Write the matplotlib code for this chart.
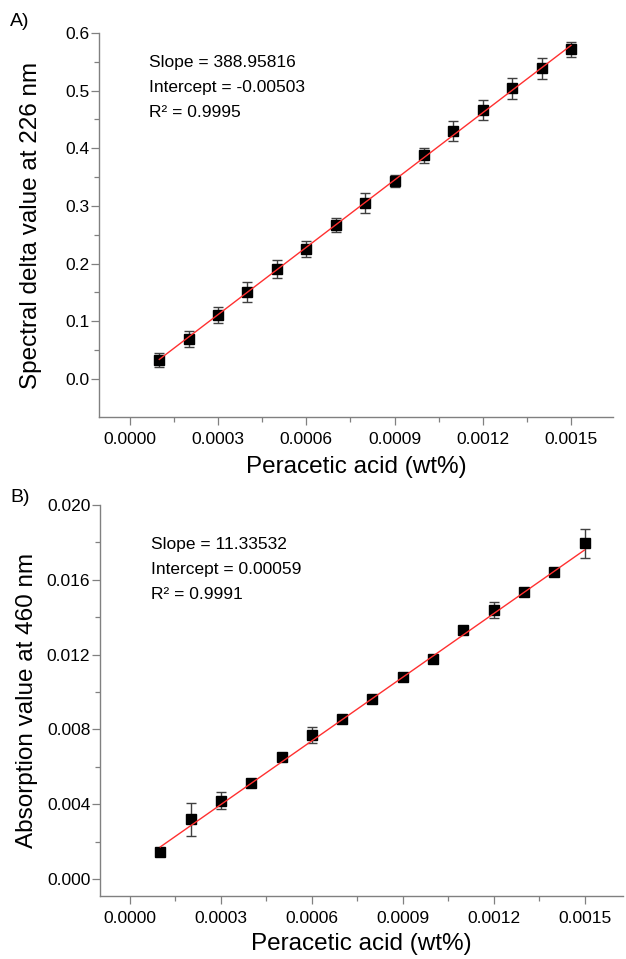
import numpy as np
import matplotlib
matplotlib.use("Agg")
import matplotlib.pyplot as plt

plt.rcParams['font.family'] = ['Liberation Sans', 'DejaVu Sans']

# peracetic acid concentration (wt%)
conc = [0.0001, 0.0002, 0.0003, 0.0004, 0.0005, 0.0006, 0.0007, 0.0008,
        0.0009, 0.0010, 0.0011, 0.0012, 0.0013, 0.0014, 0.0015]

# A) spectral delta value at 226 nm
delta226 = [0.033, 0.069, 0.111, 0.151, 0.191, 0.225, 0.267, 0.305,
            0.343, 0.388, 0.430, 0.466, 0.504, 0.539, 0.572]
delta226_err = [0.012, 0.014, 0.014, 0.017, 0.016, 0.014, 0.013, 0.018,
                0.010, 0.013, 0.017, 0.017, 0.018, 0.018, 0.013]

# B) absorption value at 460 nm
abs460 = [0.00143, 0.00319, 0.00419, 0.00514, 0.00652, 0.00772, 0.00856, 0.00964,
          0.01082, 0.01176, 0.01330, 0.01438, 0.01535, 0.01640, 0.01795]
abs460_err = [0.0001, 0.00086, 0.00045, 0.0001, 0.0001, 0.00042, 0.0001, 0.0001,
              0.0001, 0.0001, 0.0001, 0.00042, 0.0001, 0.0001, 0.00076]

# linear fits: slope, intercept, r2
fitA = (388.95816, -0.00503, "0.9995")
fitB = (11.33532, 0.00059, "0.9991")

W, H = 626, 959
spine_col = "#808080"


def draw(ax, y, err, fit, ylabel, ylim, ymajor, yminor, yfmt, text_y, ylab_x, xlab_y):
    x = np.array(conc)
    ax.errorbar(x, y, yerr=err, fmt='s', color='black', ms=7,
                mec='black', ecolor='#404040', elinewidth=1, capsize=3.5,
                capthick=1, zorder=3)
    slope, icpt, r2 = fit
    xs = np.array([conc[0], conc[-1]])
    ax.plot(xs, slope * xs + icpt, color='#ff3030', lw=1, zorder=4)

    ax.set_ylim(*ylim)
    ax.set_yticks(ymajor)
    ax.set_yticks(yminor, minor=True)
    ax.yaxis.set_major_formatter(plt.FormatStrFormatter(yfmt))
    ax.set_xticks(np.arange(0, 0.00151, 0.0003))
    ax.set_xticks(np.arange(0.00015, 0.00151, 0.0003), minor=True)
    ax.xaxis.set_major_formatter(plt.FormatStrFormatter('%.4f'))

    for s in ['top', 'right']:
        ax.spines[s].set_visible(False)
    for s in ['left', 'bottom']:
        ax.spines[s].set_color(spine_col)
        ax.spines[s].set_linewidth(1)
    ax.tick_params(which='major', direction='out', length=5.5, width=0.9,
                   color=spine_col, labelsize=12.5)
    ax.tick_params(which='minor', direction='out', length=3.5, width=0.9,
                   color=spine_col)
    ax.tick_params(axis='x', pad=5)
    ax.tick_params(axis='y', pad=1.5)

    ax.set_ylabel(ylabel, fontsize=17.5)
    ax.yaxis.set_label_coords(ylab_x, 0.5)
    ax.set_xlabel("Peracetic acid (wt%)", fontsize=17.5)
    ax.xaxis.set_label_coords(0.5, xlab_y)

    lines = ["Slope = %.5f" % slope,
             "Intercept = %.5f" % icpt,
             "R\u00b2 = " + r2]
    for t, ty in zip(lines, text_y):
        ax.text(0.097, ty, t, transform=ax.transAxes, fontsize=12.5,
                va='center', ha='left')


fig = plt.figure(figsize=(W / 100, H / 100), dpi=100)

axA = fig.add_axes([99 / W, 1 - 417 / H, 514 / W, 384 / H])
axA.set_xlim(-0.000105, 0.001643)
draw(axA, delta226, delta226_err, fitA, "Spectral delta value at 226 nm",
     (-0.066, 0.6), np.arange(0, 0.61, 0.1), np.arange(0.05, 0.6, 0.1), '%.1f',
     [0.922, 0.857, 0.792], -0.111, -0.102)

axB = fig.add_axes([100 / W, 1 - 896 / H, 523 / W, 391 / H])
axB.set_xlim(-0.000099, 0.001627)
draw(axB, abs460, abs460_err, fitB, "Absorption value at 460 nm",
     (-0.0009, 0.020), np.arange(0, 0.0201, 0.004), np.arange(0.002, 0.02, 0.004), '%.3f',
     [0.898, 0.836, 0.770], -0.1185, -0.094)

fig.text(10 / W, 1 - 22 / H, "A)", fontsize=14, va='center', ha='left')
fig.text(10 / W, 1 - 497 / H, "B)", fontsize=14, va='center', ha='left')

fig.savefig("out.png", dpi=100)
